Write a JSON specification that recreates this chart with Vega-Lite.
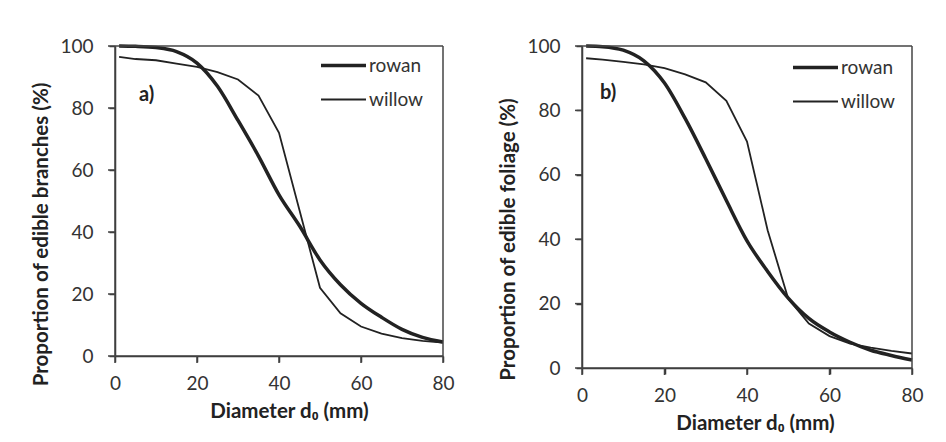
{
  "$schema": "https://vega.github.io/schema/vega-lite/v6.json",
  "padding": {"left": 31, "top": 37, "right": 5, "bottom": 5},
  "background": "white",
  "datasets": {
    "a": [
      {"species": "rowan", "d": 1, "p": 100}, {"species": "rowan", "d": 5, "p": 99.9}, {"species": "rowan", "d": 10, "p": 99.5}, {"species": "rowan", "d": 15, "p": 98.2}, {"species": "rowan", "d": 20, "p": 94.5}, {"species": "rowan", "d": 25, "p": 87}, {"species": "rowan", "d": 30, "p": 76}, {"species": "rowan", "d": 35, "p": 64.5}, {"species": "rowan", "d": 40, "p": 52}, {"species": "rowan", "d": 45, "p": 42}, {"species": "rowan", "d": 50, "p": 31}, {"species": "rowan", "d": 55, "p": 23}, {"species": "rowan", "d": 60, "p": 17}, {"species": "rowan", "d": 65, "p": 12.5}, {"species": "rowan", "d": 70, "p": 8.6}, {"species": "rowan", "d": 75, "p": 6}, {"species": "rowan", "d": 80, "p": 4.5},
      {"species": "willow", "d": 1, "p": 96.5}, {"species": "willow", "d": 5, "p": 95.8}, {"species": "willow", "d": 10, "p": 95.4}, {"species": "willow", "d": 15, "p": 94.3}, {"species": "willow", "d": 20, "p": 93.3}, {"species": "willow", "d": 25, "p": 91.6}, {"species": "willow", "d": 30, "p": 89.2}, {"species": "willow", "d": 35, "p": 84}, {"species": "willow", "d": 40, "p": 72}, {"species": "willow", "d": 45, "p": 47}, {"species": "willow", "d": 50, "p": 22}, {"species": "willow", "d": 55, "p": 13.8}, {"species": "willow", "d": 60, "p": 9.5}, {"species": "willow", "d": 65, "p": 7.2}, {"species": "willow", "d": 70, "p": 5.8}, {"species": "willow", "d": 75, "p": 4.9}, {"species": "willow", "d": 80, "p": 4.3}
    ],
    "b": [
      {"species": "rowan", "d": 1, "p": 100}, {"species": "rowan", "d": 5, "p": 99.8}, {"species": "rowan", "d": 10, "p": 98.7}, {"species": "rowan", "d": 15, "p": 95.4}, {"species": "rowan", "d": 20, "p": 88.5}, {"species": "rowan", "d": 25, "p": 77.5}, {"species": "rowan", "d": 30, "p": 65}, {"species": "rowan", "d": 35, "p": 52}, {"species": "rowan", "d": 40, "p": 39.5}, {"species": "rowan", "d": 45, "p": 30}, {"species": "rowan", "d": 50, "p": 21.7}, {"species": "rowan", "d": 55, "p": 15.4}, {"species": "rowan", "d": 60, "p": 11.2}, {"species": "rowan", "d": 65, "p": 8}, {"species": "rowan", "d": 70, "p": 5.5}, {"species": "rowan", "d": 75, "p": 3.9}, {"species": "rowan", "d": 80, "p": 2.5},
      {"species": "willow", "d": 1, "p": 96.2}, {"species": "willow", "d": 5, "p": 95.8}, {"species": "willow", "d": 10, "p": 95.1}, {"species": "willow", "d": 15, "p": 94.3}, {"species": "willow", "d": 20, "p": 93.1}, {"species": "willow", "d": 25, "p": 91.2}, {"species": "willow", "d": 30, "p": 88.7}, {"species": "willow", "d": 35, "p": 83}, {"species": "willow", "d": 40, "p": 70.3}, {"species": "willow", "d": 45, "p": 42.8}, {"species": "willow", "d": 50, "p": 21.5}, {"species": "willow", "d": 55, "p": 13.8}, {"species": "willow", "d": 60, "p": 9.9}, {"species": "willow", "d": 65, "p": 7.6}, {"species": "willow", "d": 70, "p": 6.3}, {"species": "willow", "d": 75, "p": 5.3}, {"species": "willow", "d": 80, "p": 4.5}
    ],
    "xticks": [{"tick": 0}, {"tick": 20}, {"tick": 40}, {"tick": 60}, {"tick": 80}],
    "yticks": [{"tick": 0}, {"tick": 20}, {"tick": 40}, {"tick": 60}, {"tick": 80}, {"tick": 100}]
  },
  "config": {
    "font": "Lato",
    "view": {"stroke": null},
    "axis": {
      "grid": false, "domain": true, "domainColor": "#333", "domainWidth": 1.5, "tickColor": "#333", "tickWidth": 1.5, "tickSize": 6, "labelFlush": false,
      "labelFont": "Lato", "labelFontSize": 19, "labelColor": "#333", "labelPadding": 16,
      "titleFont": "Lato", "titleFontSize": 20.5, "titleFontWeight": "bold", "titleColor": "#222", "titlePadding": 8
    },
    "axisX": {"labelPadding": 12, "titlePadding": 8},
    "legend": {
      "orient": "none", "title": null, "symbolType": "stroke", "symbolStrokeColor": "#222", "symbolSize": 2025,
      "labelFont": "Lato", "labelFontSize": 19, "labelColor": "#333", "labelOffset": 1, "rowPadding": -1
    },
    "title": {"font": "Lato", "fontSize": 20, "fontWeight": "bold", "color": "#222", "anchor": "start", "orient": "top", "frame": "group"},
    "concat": {"spacing": 43}
  },
  "resolve": {"scale": {"strokeWidth": "independent"}, "legend": {"strokeWidth": "independent"}},
  "hconcat": [
    {
      "width": 328, "height": 310,
      "title": {"text": "a)", "offset": -68, "dx": 24},
      "data": {"name": "a"},
      "layer": [
        {
          "transform": [{"filter": "datum.species == 'rowan'"}],
          "mark": {"type": "line", "color": "#222", "interpolate": "monotone"},
          "encoding": {
            "x": {"field": "d", "type": "quantitative", "title": "Diameter d₀ (mm)", "scale": {"domain": [0, 80]}, "axis": {"values": [0, 20, 40, 60, 80], "titleX": 174}},
            "y": {"field": "p", "type": "quantitative", "title": "Proportion of edible branches (%)", "scale": {"domain": [0, 100]}, "axis": {"values": [0, 20, 40, 60, 80, 100], "titleY": 188}},
            "strokeWidth": {"field": "species", "type": "ordinal", "scale": {"domain": ["rowan", "willow"], "range": [3.5, 1.8]}, "legend": {"legendX": 204, "legendY": -5}}
          }
        },
        {
          "transform": [{"filter": "datum.species == 'willow'"}],
          "mark": {"type": "line", "color": "#222"},
          "encoding": {
            "x": {"field": "d", "type": "quantitative", "title": "Diameter d₀ (mm)"},
            "y": {"field": "p", "type": "quantitative", "title": "Proportion of edible branches (%)"},
            "strokeWidth": {"field": "species", "type": "ordinal"}
          }
        },
        {
          "data": {"name": "xticks"},
          "mark": {"type": "line", "color": "#444", "strokeWidth": 1.5},
          "encoding": {"x": {"field": "tick", "type": "quantitative", "title": "Diameter d₀ (mm)"}, "y": {"datum": 100}}
        },
        {
          "data": {"name": "xticks"},
          "mark": {"type": "line", "color": "#444", "strokeWidth": 1.5},
          "encoding": {"x": {"field": "tick", "type": "quantitative", "title": "Diameter d₀ (mm)"}, "y": {"datum": 0}}
        },
        {
          "data": {"name": "yticks"},
          "mark": {"type": "line", "color": "#444", "strokeWidth": 1.5},
          "encoding": {"y": {"field": "tick", "type": "quantitative", "title": "Proportion of edible branches (%)"}, "x": {"datum": 80}, "order": {"field": "tick"}}
        },
        {
          "data": {"name": "yticks"},
          "mark": {"type": "line", "color": "#444", "strokeWidth": 1.5},
          "encoding": {"y": {"field": "tick", "type": "quantitative", "title": "Proportion of edible branches (%)"}, "x": {"datum": 0}, "order": {"field": "tick"}}
        },
        {
          "data": {"name": "xticks"},
          "mark": {"type": "point", "shape": "stroke", "size": 49, "angle": 90, "filled": false, "color": "#444", "strokeWidth": 1.5, "opacity": 1, "yOffset": 3.5},
          "encoding": {"x": {"field": "tick", "type": "quantitative", "title": "Diameter d₀ (mm)"}, "y": {"datum": 0}}
        },
        {
          "data": {"name": "yticks"},
          "mark": {"type": "point", "shape": "stroke", "size": 49, "filled": false, "color": "#444", "strokeWidth": 1.5, "opacity": 1, "xOffset": -3.5},
          "encoding": {"y": {"field": "tick", "type": "quantitative", "title": "Proportion of edible branches (%)"}, "x": {"datum": 0}}
        }
      ]
    },
    {
      "width": 330, "height": 322,
      "title": {"text": "b)", "offset": -66, "dx": 18},
      "data": {"name": "b"},
      "layer": [
        {
          "transform": [{"filter": "datum.species == 'rowan'"}],
          "mark": {"type": "line", "color": "#222", "interpolate": "monotone"},
          "encoding": {
            "x": {"field": "d", "type": "quantitative", "title": "Diameter d₀ (mm)", "scale": {"domain": [0, 80]}, "axis": {"values": [0, 20, 40, 60, 80], "titleX": 173}},
            "y": {"field": "p", "type": "quantitative", "title": "Proportion of edible foliage (%)", "scale": {"domain": [0, 100]}, "axis": {"values": [0, 20, 40, 60, 80, 100], "titleY": 193}},
            "strokeWidth": {"field": "species", "type": "ordinal", "scale": {"domain": ["rowan", "willow"], "range": [3.5, 1.8]}, "legend": {"legendX": 209, "legendY": -3}}
          }
        },
        {
          "transform": [{"filter": "datum.species == 'willow'"}],
          "mark": {"type": "line", "color": "#222"},
          "encoding": {
            "x": {"field": "d", "type": "quantitative", "title": "Diameter d₀ (mm)"},
            "y": {"field": "p", "type": "quantitative", "title": "Proportion of edible foliage (%)"},
            "strokeWidth": {"field": "species", "type": "ordinal"}
          }
        },
        {
          "data": {"name": "xticks"},
          "mark": {"type": "line", "color": "#444", "strokeWidth": 1.5},
          "encoding": {"x": {"field": "tick", "type": "quantitative", "title": "Diameter d₀ (mm)"}, "y": {"datum": 100}}
        },
        {
          "data": {"name": "xticks"},
          "mark": {"type": "line", "color": "#444", "strokeWidth": 1.5},
          "encoding": {"x": {"field": "tick", "type": "quantitative", "title": "Diameter d₀ (mm)"}, "y": {"datum": 0}}
        },
        {
          "data": {"name": "yticks"},
          "mark": {"type": "line", "color": "#444", "strokeWidth": 1.5},
          "encoding": {"y": {"field": "tick", "type": "quantitative", "title": "Proportion of edible foliage (%)"}, "x": {"datum": 80}, "order": {"field": "tick"}}
        },
        {
          "data": {"name": "yticks"},
          "mark": {"type": "line", "color": "#444", "strokeWidth": 1.5},
          "encoding": {"y": {"field": "tick", "type": "quantitative", "title": "Proportion of edible foliage (%)"}, "x": {"datum": 0}, "order": {"field": "tick"}}
        },
        {
          "data": {"name": "xticks"},
          "mark": {"type": "point", "shape": "stroke", "size": 49, "angle": 90, "filled": false, "color": "#444", "strokeWidth": 1.5, "opacity": 1, "yOffset": 3.5},
          "encoding": {"x": {"field": "tick", "type": "quantitative", "title": "Diameter d₀ (mm)"}, "y": {"datum": 0}}
        },
        {
          "data": {"name": "yticks"},
          "mark": {"type": "point", "shape": "stroke", "size": 49, "filled": false, "color": "#444", "strokeWidth": 1.5, "opacity": 1, "xOffset": -3.5},
          "encoding": {"y": {"field": "tick", "type": "quantitative", "title": "Proportion of edible foliage (%)"}, "x": {"datum": 0}}
        }
      ]
    }
  ]
}
